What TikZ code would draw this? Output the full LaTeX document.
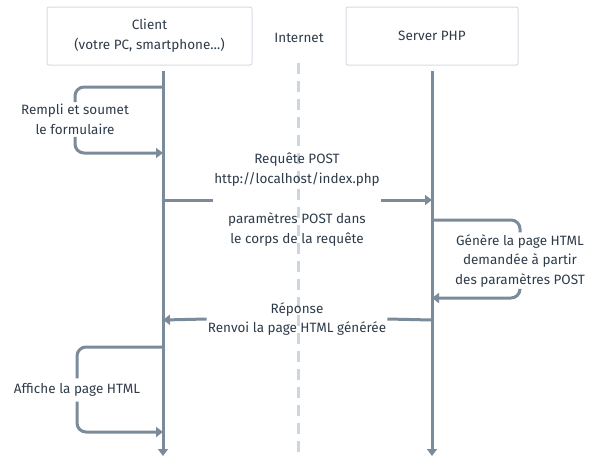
\documentclass[tikz,border=0pt]{standalone}
\usepackage{fontspec}
\setmainfont{Fira Sans}
\usetikzlibrary{arrows.meta}
\definecolor{linec}{HTML}{7B8B9A}
\definecolor{textc}{HTML}{2E3B49}
\definecolor{boxc}{HTML}{D3DCE5}
\definecolor{dashc}{HTML}{CAD6E2}
\tikzset{
  lifeline/.style={draw=linec, line width=3pt},
  flow/.style={draw=linec, line width=3pt, rounded corners=9pt},
  tip/.style={-{Triangle[width=10pt,length=7pt]}},
  header/.style={draw=boxc, line width=1pt, rounded corners=2pt, align=center, text=textc, font=\fontsize{13.5}{20}\selectfont},
  lbl/.style={align=center, text=textc, font=\fontsize{13.5}{19.5}\selectfont, inner xsep=1pt, inner ysep=2pt},
  netline/.style={draw=dashc, line width=3pt, dash pattern=on 11pt off 7pt},
}
\begin{document}
\begin{tikzpicture}[x=1pt,y=-1pt]
\useasboundingbox (0,0) rectangle (605,467);
% headers
\node[header, minimum width=205pt, minimum height=58pt] (client) at (149.5,36) {Client\\(votre PC, smartphone…)};
\node[header, minimum width=172pt, minimum height=58pt] (server) at (432,36) {Server PHP};
\node[text=textc, font=\fontsize{13.5}{20}\selectfont] (internet) at (299,38) {Internet};
% internet dashed line
\coordinate (nTop) at (298,63);
\coordinate (nBot) at (298,456);
\draw[netline] (nTop) -- (nBot);
% lifelines
\coordinate (cTop) at (163,71);
\coordinate (cBot) at (163,456);
\coordinate (sTop) at (432,71);
\coordinate (sBot) at (432,456);
\draw[lifeline, tip] (cTop) -- (cBot);
\draw[lifeline, tip] (sTop) -- (sBot);
% loop 1
\coordinate (l1a) at (163,87);
\coordinate (l1b) at (163,153);
\node[lbl] (l1lab) at (75,119.5) {Rempli et soumet\\le formulaire};
\draw[flow] (l1a) -| (l1lab.north);
\draw[flow, tip] (l1lab.south) |- (l1b);
% request
\coordinate (req1) at (163,200);
\coordinate (req2) at (432,200);
\node[lbl, font=\fontsize{13.5}{20}\selectfont] (reqlab) at (297,200) {Requête POST\\http://localhost/index.php\\\mbox{}\\paramètres POST dans\\le corps de la requête};
\draw[flow] (req1) -- (reqlab.west);
\draw[flow, tip] (reqlab.east) -- (req2);
% server loop
\coordinate (s1a) at (432,220);
\coordinate (s1b) at (432,298);
\node[lbl] (slab) at (520,261) {Génère la page HTML\\demandée à partir\\des paramètres POST};
\draw[flow] (s1a) -| (slab.north);
\draw[flow, tip] (slab.south) |- (s1b);
% response
\coordinate (r1) at (432,320);
\coordinate (r2) at (163,320);
\node[lbl] (rlab) at (297,319) {Réponse\\Renvoi la page HTML générée};
\draw[flow] (r1) -- (rlab.east);
\draw[flow, tip] (rlab.west) -- (r2);
% loop 3
\coordinate (l3a) at (163,347);
\coordinate (l3b) at (163,432);
\node[lbl, inner ysep=5pt] (l3lab) at (77,390) {Affiche la page HTML};
\draw[flow] (l3a) -| (l3lab.north);
\draw[flow, tip] (l3lab.south) |- (l3b);
\end{tikzpicture}
\end{document}
